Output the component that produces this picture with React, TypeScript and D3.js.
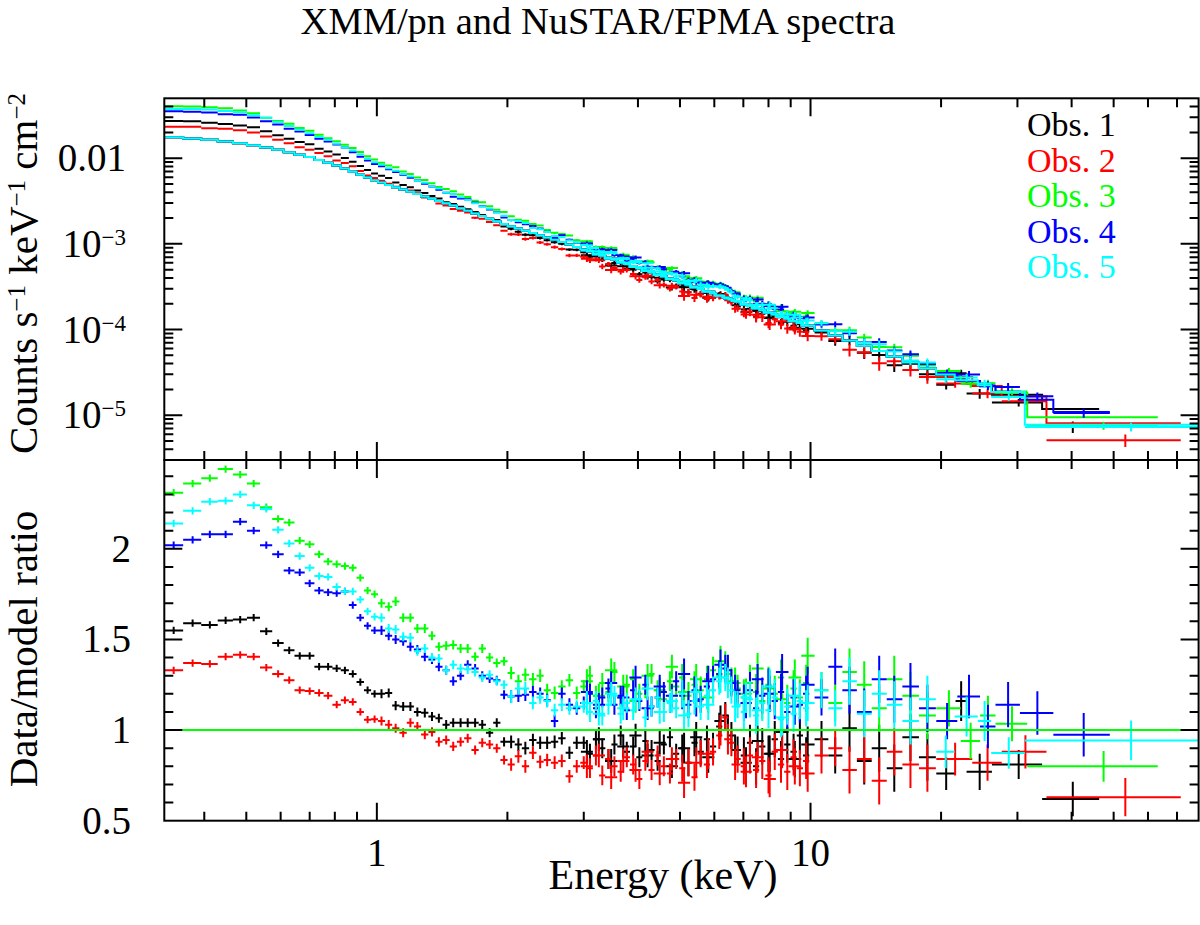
import React from 'react';
import * as d3 from 'd3';

// ---------------- DATA ----------------
const OBS_LABELS = ['Obs. 1', 'Obs. 2', 'Obs. 3', 'Obs. 4', 'Obs. 5'];
const OBS_COLORS = ['#000000', '#ff0000', '#00ff00', '#0000ff', '#00ffff'];

// XMM/pn bin centres (keV)
const xmmE = [
  0.34, 0.376, 0.412, 0.448, 0.484, 0.52, 0.556, 0.592, 0.628, 0.664, 0.70, 0.736, 0.772, 0.808, 0.844, 0.88, 0.916, 0.952, 0.988,
  1.025, 1.065, 1.105, 1.15, 1.195, 1.24, 1.29, 1.34, 1.39, 1.445, 1.5, 1.56, 1.62, 1.685, 1.75, 1.82, 1.89, 1.965, 2.04, 2.12, 2.2, 2.29, 2.38, 2.47, 2.57, 2.67, 2.78, 2.89,
  3.0, 3.1, 3.2, 3.31, 3.42, 3.53, 3.65, 3.77, 3.9, 4.03, 4.16, 4.3, 4.44, 4.59, 4.74, 4.9, 5.06, 5.23, 5.4, 5.58, 5.77, 5.96, 6.16, 6.36, 6.57, 6.79, 7.02, 7.25, 7.49, 7.74, 8.0, 8.27, 8.55, 8.84, 9.14, 9.45, 9.77,
];

// XMM data/model ratios
const xmmRatio1 = [
  1.55, 1.59, 1.58, 1.605, 1.61, 1.62, 1.545, 1.48, 1.44, 1.41, 1.41, 1.35, 1.35, 1.34, 1.33, 1.31, 1.265, 1.22, 1.20,
  1.20, 1.205, 1.135, 1.13, 1.13, 1.10, 1.095, 1.075, 1.065, 1.03, 1.04, 1.04, 1.04, 1.04, 1.03, 0.985, 1.04, 0.935, 0.935, 0.92, 0.90, 0.945, 0.93, 0.93, 0.935, 0.955, 0.875, 0.93,
  0.93, 0.87, 0.95, 0.90, 0.84, 0.92, 0.97, 0.88, 0.91, 0.85, 0.94, 0.89, 0.83, 0.92, 0.96, 0.87, 0.90, 0.82, 0.93, 0.88, 0.95, 0.91, 1.02, 1.08, 0.97, 0.89, 0.86, 0.93, 0.80, 0.91, 0.87, 0.95, 0.84, 0.92, 0.88, 0.97, 0.86,
];
const xmmRatio2 = [
  1.33, 1.37, 1.365, 1.405, 1.415, 1.405, 1.345, 1.31, 1.275, 1.22, 1.215, 1.205, 1.19, 1.14, 1.165, 1.155, 1.10, 1.057, 1.06,
  1.05, 1.03, 1.01, 0.985, 1.04, 1.02, 0.975, 0.99, 0.935, 0.945, 0.91, 0.935, 0.955, 0.89, 0.93, 0.92, 0.90, 0.835, 0.81, 0.855, 0.80, 0.875, 0.825, 0.835, 0.82, 0.83, 0.745, 0.80,
  0.82, 0.79, 0.86, 0.75, 0.84, 0.80, 0.77, 0.85, 0.81, 0.73, 0.83, 0.78, 0.86, 0.80, 0.76, 0.84, 0.79, 0.82, 0.74, 0.87, 0.81, 0.88, 0.97, 1.07, 0.93, 0.84, 0.80, 0.86, 0.78, 0.83, 0.75, 0.88, 0.81, 0.77, 0.85, 0.79, 0.83,
];
const xmmRatio3 = [
  2.31, 2.36, 2.39, 2.44, 2.41, 2.36, 2.23, 2.165, 2.145, 2.045, 2.025, 1.97, 1.93, 1.915, 1.905, 1.895, 1.84, 1.77, 1.75,
  1.70, 1.68, 1.71, 1.62, 1.62, 1.56, 1.56, 1.52, 1.46, 1.465, 1.47, 1.45, 1.45, 1.405, 1.45, 1.40, 1.37, 1.38, 1.315, 1.27, 1.305, 1.28, 1.30, 1.22, 1.205, 1.24, 1.275, 1.205,
  1.24, 1.30, 1.19, 1.26, 1.21, 1.32, 1.18, 1.25, 1.28, 1.20, 1.23, 1.31, 1.22, 1.17, 1.27, 1.24, 1.29, 1.19, 1.25, 1.22, 1.28, 1.33, 1.30, 1.36, 1.27, 1.23, 1.18, 1.26, 1.21, 1.16, 1.25, 1.20, 1.29, 1.15, 1.23, 1.18, 1.26,
];
const xmmRatio4 = [
  2.02, 2.05, 2.08, 2.08, 2.15, 2.10, 2.02, 1.97, 1.88, 1.87, 1.81, 1.77, 1.76, 1.755, 1.765, 1.69, 1.62, 1.575, 1.55,
  1.55, 1.52, 1.50, 1.49, 1.46, 1.445, 1.405, 1.39, 1.35, 1.33, 1.27, 1.30, 1.36, 1.34, 1.30, 1.285, 1.275, 1.195, 1.185, 1.19, 1.195, 1.21, 1.20, 1.165, 1.05, 1.20, 1.14, 1.12,
  1.15, 1.20, 1.12, 1.18, 1.23, 1.14, 1.19, 1.11, 1.22, 1.16, 1.25, 1.13, 1.18, 1.21, 1.15, 1.27, 1.19, 1.14, 1.22, 1.17, 1.24, 1.28, 1.31, 1.34, 1.26, 1.20, 1.15, 1.22, 1.12, 1.19, 1.24, 1.16, 1.21, 1.10, 1.18, 1.14, 1.20,
];
const xmmRatio5 = [
  2.14, 2.21, 2.26, 2.265, 2.30, 2.24, 2.22, 2.105, 2.03, 1.96, 1.895, 1.85, 1.845, 1.79, 1.765, 1.765, 1.72, 1.655, 1.625,
  1.62, 1.56, 1.555, 1.515, 1.51, 1.435, 1.45, 1.40, 1.395, 1.33, 1.36, 1.34, 1.335, 1.32, 1.29, 1.305, 1.27, 1.25, 1.185, 1.23, 1.23, 1.15, 1.18, 1.16, 1.11, 1.14, 1.12, 1.13,
  1.13, 1.10, 1.16, 1.08, 1.14, 1.19, 1.09, 1.15, 1.11, 1.17, 1.07, 1.13, 1.18, 1.10, 1.15, 1.12, 1.20, 1.09, 1.16, 1.13, 1.19, 1.22, 1.27, 1.29, 1.22, 1.14, 1.10, 1.17, 1.08, 1.15, 1.11, 1.18, 1.06, 1.13, 1.09, 1.16, 1.12,
];
const xmmErrUpTo = [1.0, 2.0, 3.0, 5.0, 7.0, 11.0];
const xmmErrVal = [0.02, 0.025, 0.035, 0.055, 0.075, 0.1];

// NuSTAR/FPMA bin centres (keV), 3-20 keV
const nuE = [3.05, 3.25, 3.47, 3.7, 3.95, 4.21, 4.49, 4.79, 5.11, 5.45, 5.81, 6.2, 6.45, 6.7, 7.1, 7.55, 8.05, 8.6, 9.2, 9.85, 10.6, 11.4, 12.3, 13.3, 14.4, 15.6, 17.0, 18.6];
const nuRatio1 = [0.88, 0.95, 0.83, 0.91, 0.97, 0.86, 0.93, 0.80, 0.90, 0.96, 0.85, 1.05, 1.00, 0.89, 0.82, 0.94, 0.87, 0.99, 0.84, 0.92, 0.95, 0.86, 1.01, 0.83, 0.90, 0.79, 0.96, 0.85];
const nuRatio2 = [0.80, 0.86, 0.74, 0.83, 0.78, 0.88, 0.76, 0.84, 0.71, 0.82, 0.87, 1.00, 0.95, 0.81, 0.77, 0.85, 0.73, 0.89, 0.80, 0.76, 0.86, 0.90, 0.78, 0.84, 0.72, 0.88, 0.81, 0.79];
const nuRatio3 = [1.27, 1.19, 1.33, 1.24, 1.16, 1.30, 1.22, 1.35, 1.21, 1.28, 1.18, 1.38, 1.31, 1.26, 1.20, 1.34, 1.23, 1.17, 1.29, 1.41, 1.22, 1.15, 1.32, 1.25, 1.12, 1.28, 1.19, 1.08];
const nuRatio4 = [1.21, 1.14, 1.26, 1.18, 1.29, 1.12, 1.24, 1.19, 1.31, 1.16, 1.27, 1.36, 1.33, 1.22, 1.15, 1.28, 1.20, 1.32, 1.13, 1.25, 1.18, 1.35, 1.22, 1.10, 1.28, 1.17, 1.24, 1.12];
const nuRatio5 = [1.15, 1.09, 1.20, 1.12, 1.17, 1.23, 1.10, 1.16, 1.08, 1.21, 1.14, 1.29, 1.26, 1.13, 1.18, 1.11, 1.24, 1.07, 1.19, 1.15, 1.22, 1.12, 1.27, 1.09, 1.20, 1.14, 1.05, 1.17];
const nuErrUpTo = [5, 8, 12, 20];
const nuErrVal = [0.065, 0.085, 0.1, 0.13];

// NuSTAR high-energy bins: [low edge, high edge, ratio, error]
const nuTail1 = [[19.5, 21.6, 0.76, 0.09], [21.6, 22.9, 1.16, 0.11], [22.9, 26.2, 0.77, 0.1], [26.2, 34.2, 0.81, 0.08], [34.2, 46.3, 0.62, 0.095]];
const nuTail2 = [[19.5, 23.6, 0.84, 0.09], [23.6, 27.6, 0.82, 0.1], [27.6, 35.0, 0.88, 0.092], [35.0, 71.4, 0.63, 0.105]];
const nuTail3 = [[19.5, 22.2, 1.12, 0.1], [22.2, 24.6, 0.94, 0.1], [24.6, 26.7, 1.08, 0.11], [26.7, 31.6, 1.035, 0.097], [31.6, 63.2, 0.80, 0.085]];
const nuTail4 = [[19.5, 21.8, 1.05, 0.1], [21.8, 24.6, 1.185, 0.12], [24.6, 26.7, 1.02, 0.12], [26.7, 30.4, 1.14, 0.125], [30.4, 36.3, 1.094, 0.12], [36.3, 49.0, 0.974, 0.12]];
const nuTail5 = [[19.5, 21.5, 0.88, 0.09], [21.5, 24.3, 1.075, 0.11], [24.3, 26.1, 1.05, 0.11], [26.1, 31.2, 0.873, 0.087], [31.2, 78.5, 0.943, 0.11]];

// Fitted model (counts s^-1 keV^-1 cm^-2) read at nodes
const modelE = [0.32, 0.4, 0.5, 0.6, 0.7, 0.8, 1.0, 1.5, 2, 2.64, 5, 7, 10, 20, 30, 50, 80];
const modelV = [0.0178, 0.0167, 0.0147, 0.0124, 0.0103, 0.0084, 0.0054, 0.0028, 0.00165, 0.00107, 0.00036, 0.0002, 0.000108, 0.000031, 0.0000175, 0.0000088, 0.0000046];

// Axes
const xDomain = [0.3235, 78.5];
const yTopDomain = [3e-6, 0.05];
const yBotDomain = [0.5, 2.49];
const xTickLabels = [{ v: 1, t: '1' }, { v: 10, t: '10' }];
const yTopTickLabels = [
  { v: 0.01, base: '0.01', exp: '' },
  { v: 1e-3, base: '10', exp: '\u22123' },
  { v: 1e-4, base: '10', exp: '\u22124' },
  { v: 1e-5, base: '10', exp: '\u22125' },
];
const yBotTickLabels = [{ v: 0.5, t: '0.5' }, { v: 1, t: '1' }, { v: 1.5, t: '1.5' }, { v: 2, t: '2' }];

const XMM_RATIOS = [xmmRatio1, xmmRatio2, xmmRatio3, xmmRatio4, xmmRatio5];
const NU_RATIOS = [nuRatio1, nuRatio2, nuRatio3, nuRatio4, nuRatio5];
const NU_TAILS = [nuTail1, nuTail2, nuTail3, nuTail4, nuTail5];

// ---------------- LAYOUT ----------------
const W = 1200, H = 925;
const L = 164.3, R = 1198.6;
const T1 = 98.3, B1 = 460;
const T2 = 460, B2 = 820.7;
const FONT = "'Liberation Serif', 'Times New Roman', 'DejaVu Serif', serif";
const MAJ = 18, MIN = 9;

type Bin = { lo: number; hi: number; c: number; r: number; e: number };

function errFor(c: number, upTo: number[], vals: number[]) {
  const i = upTo.findIndex(u => c <= u);
  return vals[i < 0 ? vals.length - 1 : i];
}

function gridBins(centers: number[], ratios: number[], upTo: number[], vals: number[]): Bin[] {
  const n = centers.length;
  return centers.map((c, i) => {
    const lo = i > 0 ? Math.sqrt(centers[i - 1] * c) : (c * c) / Math.sqrt(c * centers[1]);
    const hi = i < n - 1 ? Math.sqrt(c * centers[i + 1]) : (c * c) / Math.sqrt(centers[n - 2] * c);
    return { lo, hi, c, r: ratios[i], e: errFor(c, upTo, vals) };
  });
}

function tailBins(tail: number[][]): Bin[] {
  return tail.map(([lo, hi, r, e]) => ({ lo, hi, c: (lo + hi) / 2, r, e }));
}

export default function App() {
  const x = d3.scaleLog().domain(xDomain).range([L, R]);
  const yTop = d3.scaleLog().domain(yTopDomain).range([B1, T1]);
  const yBot = d3.scaleLinear().domain(yBotDomain).range([B2, T2]);
  const modelLog = d3.scaleLog().domain(modelE).range(modelV.map(v => Math.log10(v)));
  const model = (e: number) => Math.pow(10, modelLog(e));

  const obs = OBS_COLORS.map((color, k) => ({
    color,
    xmm: gridBins(xmmE, XMM_RATIOS[k], xmmErrUpTo, xmmErrVal),
    nu: [...gridBins(nuE, NU_RATIOS[k], nuErrUpTo, nuErrVal), ...tailBins(NU_TAILS[k])],
  }));

  const crossD = (bins: Bin[], yOf: (v: number, b: Bin) => number) =>
    bins
      .map(b => {
        const xl = x(b.lo), xh = x(b.hi), xc = x(b.c);
        const yc = yOf(b.r, b), y1 = yOf(b.r - b.e, b), y2 = yOf(b.r + b.e, b);
        return `M${xl.toFixed(2)},${yc.toFixed(2)}H${xh.toFixed(2)}M${xc.toFixed(2)},${y1.toFixed(2)}V${y2.toFixed(2)}`;
      })
      .join('');

  const topY = (v: number, b: Bin) => yTop(v * model(b.c));
  const botY = (v: number) => yBot(v);

  const stepLine = d3
    .line<[number, number]>()
    .x(p => x(p[0]))
    .y(p => yTop(p[1]));
  const stepD = (bins: Bin[]) => {
    const pts: [number, number][] = [];
    bins.forEach(b => {
      const m = model(b.c);
      pts.push([b.lo, m], [b.hi, m]);
    });
    return stepLine(pts) || '';
  };

  const xTicks = x.ticks();
  const isMajorLog = (v: number) => Math.abs(Math.log10(v) - Math.round(Math.log10(v))) < 1e-6;
  const yTopTicks = yTop.ticks();
  const yBotTicks = yBot.ticks(20);

  const tickPaths: string[] = [];
  xTicks.forEach(v => {
    const len = isMajorLog(v) ? MAJ : MIN;
    const xx = x(v);
    [[T1, 1], [B1, -1], [T2, 1], [B2, -1]].forEach(([y0, dir]) => {
      tickPaths.push(`M${xx},${y0}V${y0 + dir * len}`);
    });
  });
  yTopTicks.forEach(v => {
    const len = isMajorLog(v) ? MAJ : MIN;
    const yy = yTop(v);
    if (yy < T1 + 0.5 || yy > B1 - 0.5) return;
    tickPaths.push(`M${L},${yy}H${L + len}`);
    tickPaths.push(`M${R},${yy}H${R - len}`);
  });
  yBotTicks.forEach(v => {
    const major = Math.abs(v * 2 - Math.round(v * 2)) < 1e-6;
    const len = major ? MAJ : MIN;
    const yy = yBot(v);
    if (yy < T2 + 0.5 || yy > B2 - 0.5) return;
    tickPaths.push(`M${L},${yy}H${L + len}`);
    tickPaths.push(`M${R},${yy}H${R - len}`);
  });

  return (
    <svg
      width={W}
      height={H}
      viewBox={`0 0 ${W} ${H}`}
      style={{ position: 'absolute', left: 0, top: 0, background: '#fff' }}
      fontFamily={FONT}
    >
      <rect x={0} y={0} width={W} height={H} fill="#ffffff" />
      <defs>
        <clipPath id="clipTop">
          <rect x={L} y={T1} width={R - L} height={B1 - T1} />
        </clipPath>
        <clipPath id="clipBot">
          <rect x={L} y={T2} width={R - L} height={B2 - T2} />
        </clipPath>
      </defs>

      {/* Title */}
      <text x={598} y={34} textAnchor="middle" fontSize={38.5} fill="#000">
        XMM/pn and NuSTAR/FPMA spectra
      </text>

      {/* Top panel data & model */}
      <g clipPath="url(#clipTop)" fill="none" strokeWidth={2}>
        {obs.map((o, k) => (
          <g key={k} stroke={o.color}>
            <path d={crossD(o.xmm, topY)} />
            <path d={crossD(o.nu, topY)} />
            <path d={stepD(o.xmm)} />
            <path d={stepD(o.nu)} />
          </g>
        ))}
      </g>

      {/* Bottom panel ratios */}
      <g clipPath="url(#clipBot)" fill="none" strokeWidth={2}>
        {obs.map((o, k) => (
          <g key={k} stroke={o.color}>
            <path d={crossD(o.xmm, botY)} />
            <path d={crossD(o.nu, botY)} />
          </g>
        ))}
        <line x1={L} x2={R} y1={yBot(1)} y2={yBot(1)} stroke="#00ff00" strokeWidth={2} />
      </g>

      {/* Frames and ticks */}
      <g fill="none" stroke="#000" strokeWidth={2}>
        <rect x={L} y={T1} width={R - L} height={B1 - T1} />
        <rect x={L} y={T2} width={R - L} height={B2 - T2} />
        <path d={tickPaths.join('')} />
      </g>

      {/* Top y tick labels */}
      {yTopTickLabels.map(t => (
        <text key={t.v} x={126} y={yTop(t.v) + 13} textAnchor="end" fontSize={39} fill="#000">
          {t.base}
          {t.exp ? (
            <tspan dy={-12} fontSize={23}>
              {t.exp}
            </tspan>
          ) : null}
        </text>
      ))}

      {/* Bottom y tick labels */}
      {yBotTickLabels.map(t => (
        <text key={t.v} x={131} y={yBot(t.v) + 13} textAnchor="end" fontSize={39} fill="#000">
          {t.t}
        </text>
      ))}

      {/* X tick labels */}
      {xTickLabels.map(t => (
        <text key={t.v} x={x(t.v)} y={866} textAnchor="middle" fontSize={39} fill="#000">
          {t.t}
        </text>
      ))}

      {/* Axis labels */}
      <text x={663} y={889} textAnchor="middle" fontSize={42} fill="#000">
        Energy (keV)
      </text>
      <text transform={`translate(37,273.5) rotate(-90)`} textAnchor="middle" fontSize={41} fill="#000">
        Counts s
        <tspan dy={-12} fontSize={25}>{'\u22121'}</tspan>
        <tspan dy={12}>{' keV'}</tspan>
        <tspan dy={-12} fontSize={25}>{'\u22121'}</tspan>
        <tspan dy={12}>{' cm'}</tspan>
        <tspan dy={-12} fontSize={25}>{'\u22122'}</tspan>
      </text>
      <text transform={`translate(37,649) rotate(-90)`} textAnchor="middle" fontSize={41} fill="#000">
        Data/model ratio
      </text>

      {/* Legend */}
      {OBS_LABELS.map((lab, k) => (
        <text key={lab} x={1027} y={136 + k * 35.5} fontSize={34} fill={OBS_COLORS[k]}>
          {lab}
        </text>
      ))}
    </svg>
  );
}
